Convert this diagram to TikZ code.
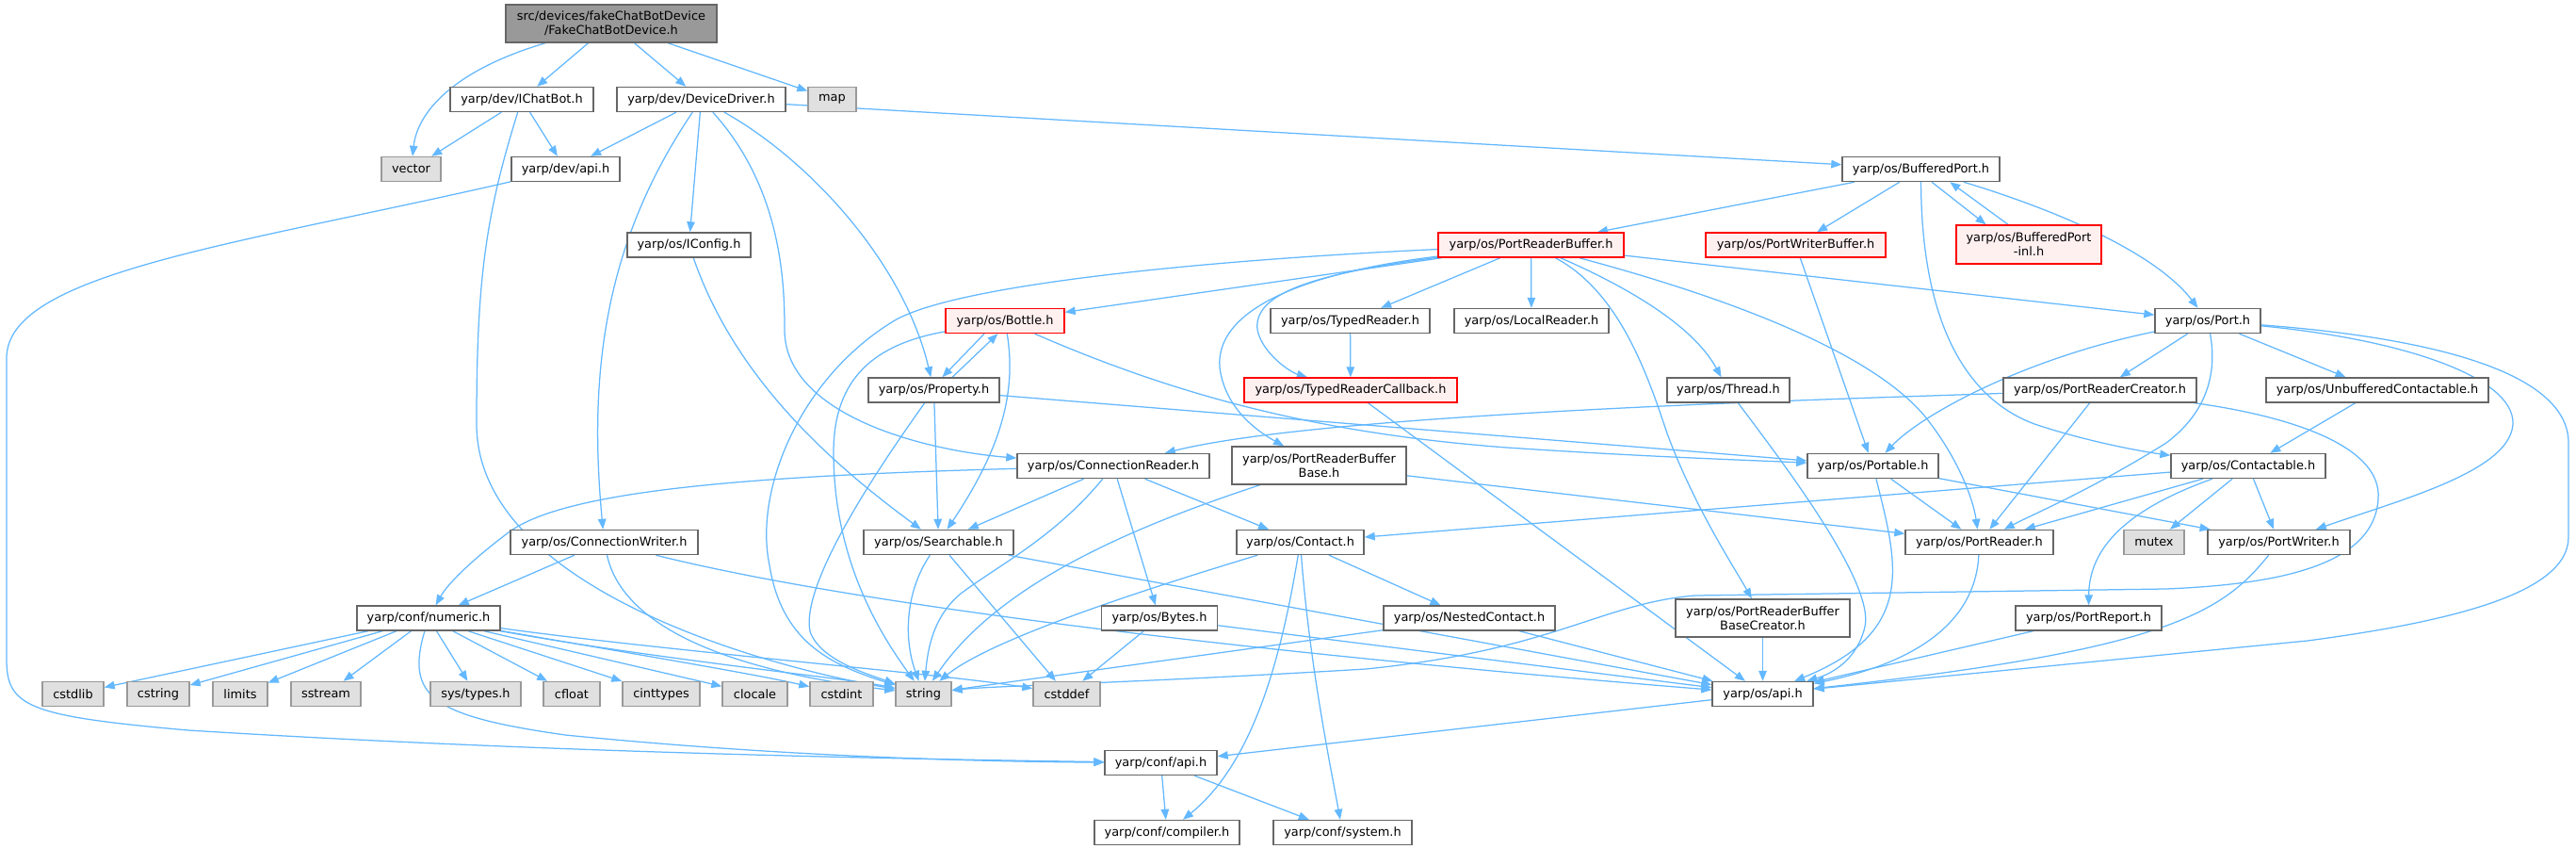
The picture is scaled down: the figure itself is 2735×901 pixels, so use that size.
\documentclass[tikz,border=0pt]{standalone}
\usepackage{fontspec}
\setmainfont{DejaVu Sans}
\usetikzlibrary{arrows.meta}
\definecolor{edgec}{HTML}{63B8FF}
\definecolor{boxb}{HTML}{666666}
\definecolor{redb}{HTML}{FF0000}
\definecolor{redf}{HTML}{FFF0F0}
\definecolor{greyb}{HTML}{999999}
\definecolor{greyf}{HTML}{E0E0E0}
\definecolor{mainf}{HTML}{999999}
\pgfdeclarelayer{paper}
\pgfdeclarelayer{bg}
\pgfsetlayers{paper,bg,main}
\tikzset{
 nb/.style={rectangle, inner sep=0pt, minimum height=26pt, font=\fontsize{12.9}{15}\selectfont, line width=1.4pt, align=center},
 wbox/.style={nb, draw=boxb, fill=white},
 rbox/.style={nb, draw=redb, fill=redf},
 gbox/.style={nb, draw=greyb, fill=greyf},
 mbox/.style={nb, draw=boxb, fill=mainf},
 dep/.style={draw=edgec, line width=1.25pt, -{Triangle[length=11pt,width=8.5pt]}},
}
\begin{document}
\begin{tikzpicture}[x=1pt,y=-1pt]
\begin{pgfonlayer}{paper}
\fill[white] (0,0) rectangle (2735,901);
\end{pgfonlayer}
\useasboundingbox (0,0) rectangle (2735,901);
% nodes
\node[mbox, minimum width=224pt, minimum height=40pt] (main) at (649,25) {src/devices/fakeChatBotDevice\\/FakeChatBotDevice.h};
\node[wbox, minimum width=152pt] (ichatbot) at (554,105.5) {yarp/dev/IChatBot.h};
\node[wbox, minimum width=179pt] (devicedriver) at (744.5,105.5) {yarp/dev/DeviceDriver.h};
\node[gbox, minimum width=51pt] (map) at (883.5,105.5) {map};
\node[gbox, minimum width=63pt] (vector) at (436.5,179.5) {vector};
\node[wbox, minimum width=115pt] (devapi) at (600.5,179.5) {yarp/dev/api.h};
\node[wbox, minimum width=167pt] (bufferedport) at (2039.5,179.5) {yarp/os/BufferedPort.h};
\node[wbox, minimum width=131pt] (iconfig) at (731.5,260) {yarp/os/IConfig.h};
\node[rbox, minimum width=197pt] (prb) at (1625.5,260) {yarp/os/PortReaderBuffer.h};
\node[rbox, minimum width=191pt] (pwb) at (1906.5,260) {yarp/os/PortWriterBuffer.h};
\node[rbox, minimum width=154pt, minimum height=41pt] (bpinl) at (2154,259.5) {yarp/os/BufferedPort\\-inl.h};
\node[rbox, minimum width=126pt] (bottle) at (1067,340.5) {yarp/os/Bottle.h};
\node[wbox, minimum width=169pt] (typedreader) at (1433.5,340.5) {yarp/os/TypedReader.h};
\node[wbox, minimum width=164pt] (localreader) at (1626,340.5) {yarp/os/LocalReader.h};
\node[wbox, minimum width=112pt] (port) at (2344,340.5) {yarp/os/Port.h};
\node[wbox, minimum width=139pt] (property) at (991.5,414) {yarp/os/Property.h};
\node[rbox, minimum width=226pt] (trc) at (1434,414) {yarp/os/TypedReaderCallback.h};
\node[wbox, minimum width=130pt] (thread) at (1835,414) {yarp/os/Thread.h};
\node[wbox, minimum width=205pt] (prc) at (2229.5,414) {yarp/os/PortReaderCreator.h};
\node[wbox, minimum width=236pt] (ubc) at (2524,414) {yarp/os/UnbufferedContactable.h};
\node[wbox, minimum width=204pt] (cr) at (1182,494.5) {yarp/os/ConnectionReader.h};
\node[wbox, minimum width=185pt, minimum height=40pt] (prbbase) at (1400.5,494) {yarp/os/PortReaderBuffer\\Base.h};
\node[wbox, minimum width=139pt] (portable) at (1988.5,494.5) {yarp/os/Portable.h};
\node[wbox, minimum width=164pt] (contactable) at (2387,494.5) {yarp/os/Contactable.h};
\node[wbox, minimum width=199pt] (cw) at (641.5,575.5) {yarp/os/ConnectionWriter.h};
\node[wbox, minimum width=159pt] (searchable) at (996.5,575.5) {yarp/os/Searchable.h};
\node[wbox, minimum width=135pt] (contact) at (1380.5,575.5) {yarp/os/Contact.h};
\node[wbox, minimum width=157pt] (portreader) at (2101.5,575.5) {yarp/os/PortReader.h};
\node[gbox, minimum width=64pt] (mutex) at (2287,575.5) {mutex};
\node[wbox, minimum width=151pt] (portwriter) at (2419.5,575.5) {yarp/os/PortWriter.h};
\node[wbox, minimum width=152pt] (numeric) at (455,656) {yarp/conf/numeric.h};
\node[wbox, minimum width=123pt] (bytes) at (1231,656) {yarp/os/Bytes.h};
\node[wbox, minimum width=182pt] (nested) at (1560,656) {yarp/os/NestedContact.h};
\node[wbox, minimum width=185pt, minimum height=40pt] (prbbc) at (1871.5,656) {yarp/os/PortReaderBuffer\\BaseCreator.h};
\node[wbox, minimum width=155pt] (portreport) at (2217.5,656) {yarp/os/PortReport.h};
\node[gbox, minimum width=65pt] (cstdlib) at (77.5,736.5) {cstdlib};
\node[gbox, minimum width=66pt] (cstring) at (168,736.5) {cstring};
\node[gbox, minimum width=58pt] (limits) at (255,736.5) {limits};
\node[gbox, minimum width=74pt] (sstream) at (346,736.5) {sstream};
\node[gbox, minimum width=96pt] (systypes) at (505,736.5) {sys/types.h};
\node[gbox, minimum width=60pt] (cfloat) at (607,736.5) {cfloat};
\node[gbox, minimum width=82pt] (cinttypes) at (702,736.5) {cinttypes};
\node[gbox, minimum width=69pt] (clocale) at (801.5,736.5) {clocale};
\node[gbox, minimum width=67pt] (cstdint) at (893.5,736.5) {cstdint};
\node[gbox, minimum width=59pt] (string) at (980.5,736.5) {string};
\node[gbox, minimum width=71pt] (cstddef) at (1132.5,736.5) {cstddef};
\node[wbox, minimum width=107pt] (osapi) at (1871.5,736.5) {yarp/os/api.h};
\node[wbox, minimum width=119pt] (confapi) at (1232.5,809.5) {yarp/conf/api.h};
\node[wbox, minimum width=154pt] (compiler) at (1239,883.5) {yarp/conf/compiler.h};
\node[wbox, minimum width=147pt] (system) at (1425.5,883.5) {yarp/conf/system.h};
% edges
\begin{pgfonlayer}{bg}
\draw[dep] (main) .. controls (480,75) and (443,120) .. (vector);
\draw[dep] (main) -- (ichatbot);
\draw[dep] (main) -- (devicedriver);
\draw[dep] (main) -- (map);
\draw[dep] (ichatbot) -- (vector);
\draw[dep] (ichatbot) -- (devapi);
\draw[dep] (ichatbot) .. controls (515,230) and (506,300) .. (506,450) .. controls (506,620) and (800,705) .. (string);
\draw[dep] (devicedriver) -- (devapi);
\draw[dep] (devicedriver) .. controls (640,260) and (625,400) .. (cw);
\draw[dep] (devicedriver) -- (iconfig);
\draw[dep] (devicedriver) .. controls (830,200) and (833,300) .. (833,350) .. controls (833,440) and (980,478) .. (cr);
\draw[dep] (devicedriver) .. controls (860,170) and (960,280) .. (property);
\draw[dep] (devicedriver) -- (bufferedport);
\draw[dep] (devapi) .. controls (250,260) and (7,290) .. (7,380) -- (7,700) .. controls (7,750) and (30,760) .. (200,775) .. controls (600,800) and (1000,806) .. (confapi);
\draw[dep] (iconfig) .. controls (780,400) and (880,490) .. (searchable);
\draw[dep] (bufferedport) -- (prb);
\draw[dep] (bufferedport) -- (pwb);
\draw[dep] (bufferedport.-50) -- (bpinl.155);
\draw[dep] (bpinl.136) -- (bufferedport.-24);
\draw[dep] (bufferedport) .. controls (2190,225) and (2290,270) .. (port);
\draw[dep] (bufferedport) .. controls (2040,330) and (2080,420) .. (2160,450) .. controls (2220,470) and (2280,480) .. (contactable);
\draw[dep] (prb) .. controls (1300,275) and (1020,300) .. (950,340) .. controls (850,400) and (800,520) .. (817,600) .. controls (830,680) and (880,705) .. (string);
\draw[dep] (prb) -- (bottle);
\draw[dep] (prb) .. controls (1380,290) and (1290,330) .. (1295,390) .. controls (1300,430) and (1330,455) .. (prbbase);
\draw[dep] (prb) .. controls (1400,290) and (1330,310) .. (1335,350) .. controls (1340,375) and (1370,395) .. (trc);
\draw[dep] (prb) -- (typedreader);
\draw[dep] (prb) -- (localreader);
\draw[dep] (prb) .. controls (1720,310) and (1750,400) .. (1770,460) .. controls (1800,540) and (1840,600) .. (prbbc);
\draw[dep] (prb) .. controls (1740,310) and (1800,350) .. (thread);
\draw[dep] (prb) .. controls (1850,320) and (2000,380) .. (2050,450) .. controls (2080,490) and (2095,530) .. (portreader);
\draw[dep] (prb) -- (port);
\draw[dep] (pwb) -- (portable);
\draw[dep] (bottle.212) -- (property.57);
\draw[dep] (property.35) -- (bottle.241);
\draw[dep] (bottle) .. controls (1080,420) and (1060,480) .. (searchable);
\draw[dep] (bottle) .. controls (930,365) and (885,400) .. (885,480) .. controls (885,600) and (940,680) .. (string);
\draw[dep] (bottle) .. controls (1250,420) and (1400,460) .. (1600,475) .. controls (1750,485) and (1850,488) .. (portable);
\draw[dep] (property) -- (portable);
\draw[dep] (property) -- (searchable);
\draw[dep] (property) .. controls (930,500) and (850,620) .. (860,670) .. controls (870,700) and (920,715) .. (string);
\draw[dep] (typedreader) -- (trc);
\draw[dep] (port) .. controls (2150,380) and (2040,440) .. (portable);
\draw[dep] (port) -- (prc);
\draw[dep] (port) -- (ubc);
\draw[dep] (port) .. controls (2355,400) and (2340,440) .. (2300,470) .. controls (2220,520) and (2160,545) .. (portreader);
\draw[dep] (port) .. controls (2550,360) and (2670,400) .. (2668,450) .. controls (2665,500) and (2550,530) .. (portwriter);
\draw[dep] (port) .. controls (2600,360) and (2727,400) .. (2727,470) -- (2727,570) .. controls (2727,630) and (2600,660) .. (2450,680) -- (osapi);
\draw[dep] (trc) -- (osapi);
\draw[dep] (thread) .. controls (1900,500) and (1990,620) .. (1980,665) .. controls (1972,700) and (1945,715) .. (osapi);
\draw[dep] (prc) .. controls (1900,425) and (1400,440) .. (cr);
\draw[dep] (prc) -- (portreader);
\draw[dep] (prc) .. controls (2420,440) and (2530,470) .. (2525,530) .. controls (2520,600) and (2420,620) .. (2300,625) -- (1800,632) .. controls (1700,640) and (1650,690) .. (1450,710) .. controls (1200,725) and (1050,728) .. (string);
\draw[dep] (ubc) -- (contactable);
\draw[dep] (cr) .. controls (800,505) and (600,520) .. (540,565) .. controls (500,595) and (475,620) .. (numeric);
\draw[dep] (cr) -- (searchable);
\draw[dep] (cr) .. controls (1120,570) and (1060,600) .. (1020,630) .. controls (990,655) and (985,690) .. (string);
\draw[dep] (cr) -- (bytes);
\draw[dep] (cr) -- (contact);
\draw[dep] (prbbase) .. controls (1200,560) and (1060,620) .. (string);
\draw[dep] (prbbase) -- (portreader);
\draw[dep] (portable) -- (portreader);
\draw[dep] (portable) -- (portwriter);
\draw[dep] (portable) .. controls (2015,600) and (2035,670) .. (osapi);
\draw[dep] (contactable) -- (contact);
\draw[dep] (contactable) -- (portreader);
\draw[dep] (contactable) -- (mutex);
\draw[dep] (contactable) -- (portwriter);
\draw[dep] (contactable) .. controls (2260,540) and (2218,580) .. (portreport);
\draw[dep] (cw) -- (numeric);
\draw[dep] (cw) .. controls (660,660) and (760,710) .. (string);
\draw[dep] (cw) .. controls (900,640) and (1300,690) .. (osapi);
\draw[dep] (searchable) .. controls (960,630) and (960,680) .. (string);
\draw[dep] (searchable) -- (cstddef);
\draw[dep] (searchable) -- (osapi);
\draw[dep] (contact) .. controls (1200,630) and (1050,680) .. (string);
\draw[dep] (contact) .. controls (1360,700) and (1330,810) .. (compiler);
\draw[dep] (contact) .. controls (1390,700) and (1410,800) .. (system);
\draw[dep] (contact) -- (nested);
\draw[dep] (bytes) -- (cstddef);
\draw[dep] (bytes) -- (osapi);
\draw[dep] (nested) -- (string);
\draw[dep] (nested) -- (osapi);
\draw[dep] (prbbc) -- (osapi);
\draw[dep] (portreader) .. controls (2098,650) and (2050,700) .. (osapi);
\draw[dep] (portreport) -- (osapi);
\draw[dep] (portwriter) .. controls (2360,650) and (2300,690) .. (osapi);
\draw[dep] (osapi) -- (confapi);
\draw[dep] (numeric) -- (cstdlib);
\draw[dep] (numeric) -- (cstring);
\draw[dep] (numeric) -- (limits);
\draw[dep] (numeric) -- (sstream);
\draw[dep] (numeric) -- (systypes);
\draw[dep] (numeric) -- (cfloat);
\draw[dep] (numeric) -- (cinttypes);
\draw[dep] (numeric) -- (clocale);
\draw[dep] (numeric) .. controls (650,690) and (800,715) .. (cstdint);
\draw[dep] (numeric) .. controls (700,700) and (900,720) .. (string);
\draw[dep] (numeric) .. controls (700,690) and (1000,715) .. (cstddef);
\draw[dep] (numeric) .. controls (430,740) and (460,760) .. (600,780) .. controls (800,800) and (1000,808) .. (confapi);
\draw[dep] (confapi) -- (compiler);
\draw[dep] (confapi) -- (system);
\end{pgfonlayer}
\end{tikzpicture}
\end{document}
